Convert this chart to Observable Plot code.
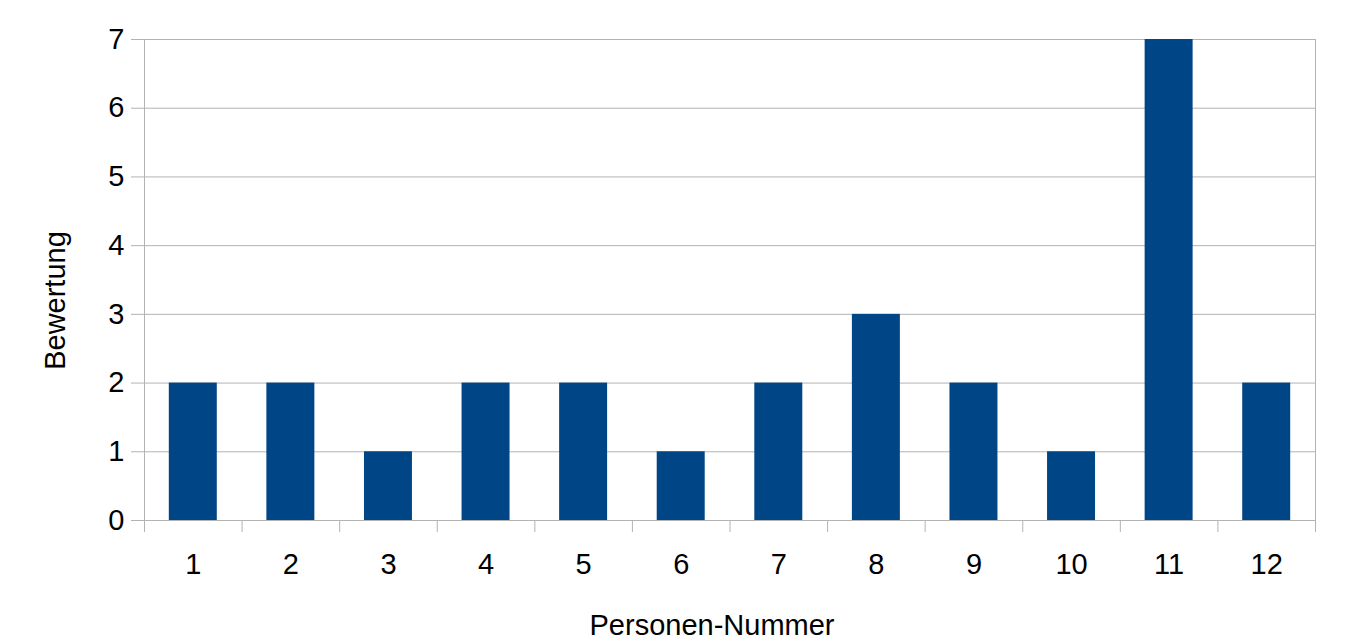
<!DOCTYPE html>
<html>
<head>
<meta charset="utf-8">
<script src="https://cdn.jsdelivr.net/npm/d3@7"></script>
<script src="https://cdn.jsdelivr.net/npm/@observablehq/plot@0.6"></script>
<style>
  html, body { margin: 0; padding: 0; background: #fff; }
  #chart svg { display: block; }
</style>
</head>
<body>
<div id="chart"></div>
<script>
const persons = [1, 2, 3, 4, 5, 6, 7, 8, 9, 10, 11, 12];
const ratings = [2, 2, 1, 2, 2, 1, 2, 3, 2, 1, 7, 2];
const yTicks = [0, 1, 2, 3, 4, 5, 6, 7];
const xLabel = "Personen-Nummer";
const yLabel = "Bewertung";

const data = persons.map((p, i) => ({person: p, rating: ratings[i]}));

const W = 1345, H = 643;
const mL = 144, mR = 30, mT = 39, mB = 123;
const bw = (W - mL - mR) / persons.length;
const grid = "#b3b3b3";
const font = "Liberation Sans, Arial, sans-serif";
const fs = 29;

const chart = Plot.plot({
  width: W,
  height: H,
  marginLeft: mL,
  marginRight: mR,
  marginTop: mT,
  marginBottom: mB,
  style: {fontFamily: font, fontSize: fs + "px", color: "#000", background: "#fff"},
  x: {type: "band", domain: persons, padding: 0, round: false},
  y: {domain: [0, 7]},
  marks: [
    Plot.gridY(yTicks, {stroke: grid, strokeOpacity: 1, strokeWidth: 1}),
    Plot.frame({anchor: "left", stroke: grid, strokeWidth: 1}),
    Plot.frame({anchor: "right", stroke: grid, strokeWidth: 1}),
    Plot.barY(data, {x: "person", y: "rating", fill: "#004586", insetLeft: 24.8, insetRight: 24.8}),
    Plot.axisY(yTicks, {tickSize: 13, tickPadding: 7, tickFormat: "d", stroke: grid, strokeOpacity: 1, label: null, fill: "#000", fontSize: fs}),
    Plot.axisX(persons, {tickSize: 12, text: null, dx: -bw / 2, stroke: grid, strokeOpacity: 1, label: null}),
    Plot.axisX([persons[persons.length - 1]], {tickSize: 12, text: null, dx: bw / 2, stroke: grid, strokeOpacity: 1, label: null}),
    Plot.axisX(persons, {tickSize: 0, tickPadding: 33, label: null, fill: "#000", fontSize: fs}),
    Plot.text([xLabel], {frameAnchor: "bottom", dx: -18, dy: 105, lineAnchor: "middle", fontSize: fs, fill: "#000"}),
    Plot.text([yLabel], {frameAnchor: "left", textAnchor: "middle", rotate: -90, dx: -89, dy: 20.5, lineAnchor: "middle", fontSize: fs, fill: "#000"})
  ]
});

document.getElementById("chart").appendChild(chart);
</script>
</body>
</html>
